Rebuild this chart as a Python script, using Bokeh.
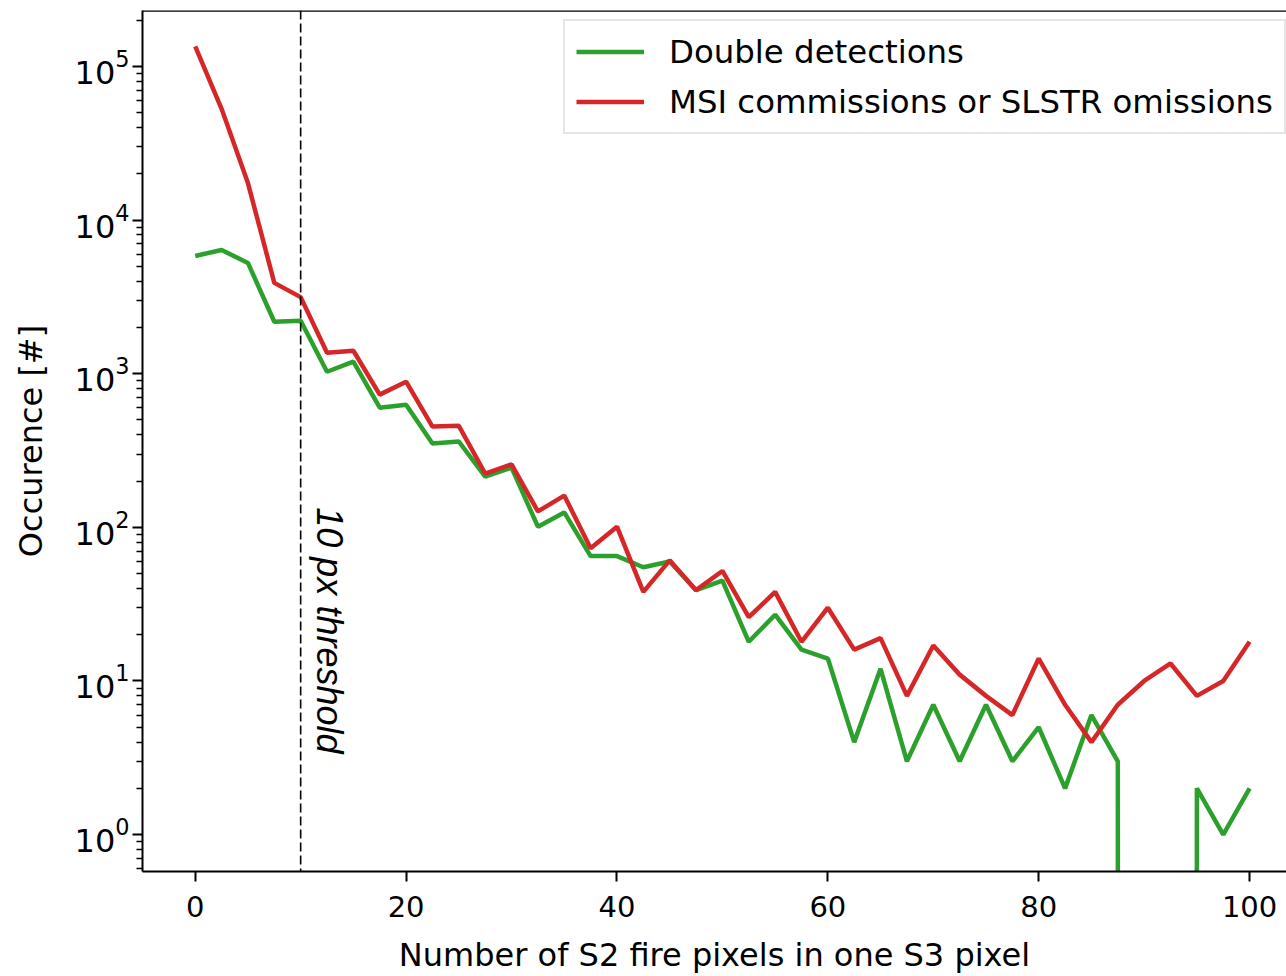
import math
from bokeh.plotting import figure
from bokeh.models import Range1d, FixedTicker, Span, Legend, LegendItem
from bokeh.core.properties import value
from bokeh.embed import file_html
from bokeh.resources import INLINE

# ---- data ----
pixels = [0, 2.5, 5, 7.5, 10, 12.5, 15, 17.5, 20, 22.5, 25, 27.5, 30, 32.5, 35, 37.5,
          40, 42.5, 45, 47.5, 50, 52.5, 55, 57.5, 60, 62.5, 65, 67.5, 70, 72.5, 75, 77.5,
          80, 82.5, 85, 87.5, 90, 92.5, 95, 97.5, 100]
double_detections = [5840, 6390, 5260, 2180, 2210, 1030, 1200, 601, 629, 351, 362, 214,
                     245, 101, 125, 65, 65, 55, 60, 39, 45, 18, 27, 16, 14, 4, 12, 3, 7, 3,
                     7, 3, 5, 2, 6, 3, 0, 0, 2, 1, 2]
msi_commissions = [135000, 53000, 17400, 3900, 3150, 1370, 1410, 731, 887, 453, 458, 224,
                   257, 127, 161, 73, 101, 38, 61, 39, 52, 26, 38, 18, 30, 16, 19, 8, 17, 11,
                   8, 6, 14, 7, 4, 7, 10, 13, 8, 10, 18]
threshold = 10
x_ticks = [0, 20, 40, 60, 80, 100]
y_decades = [0, 1, 2, 3, 4, 5]
series_names = ["Double detections", "MSI commissions or SLSTR omissions"]
colors = ["#2ca02c", "#d62728"]

# zero counts go to -infinity on a log axis (as in matplotlib): use a tiny number
def clip_log(vals):
    return [v if v > 0 else 1e-300 for v in vals]

X_MIN, X_MAX = -5, 103.5
Y_MIN, Y_MAX = 10 ** -0.240, 10 ** 5.364

p = figure(width=1286, height=976, output_backend="svg", toolbar_location=None,
           y_axis_type="log",
           x_range=Range1d(X_MIN, X_MAX), y_range=Range1d(Y_MIN, Y_MAX),
           min_border_left=142, min_border_right=0, min_border_top=10, min_border_bottom=103)
p.background_fill_color = "white"
p.border_fill_color = "white"
p.outline_line_color = None
p.grid.grid_line_color = None

r_green = p.line(pixels, clip_log(double_detections), line_color=colors[0], line_width=4.5)
r_red = p.line(pixels, clip_log(msi_commissions), line_color=colors[1], line_width=4.5)

# threshold line and label
p.add_layout(Span(location=threshold, dimension="height", line_color="black",
                  line_width=1.6, line_dash="9 4"))
p.text(x=[threshold + 2.74], y=[135], text=["10 px threshold"], angle=-math.pi / 2,
       text_font=value("Liberation Sans"), text_font_style="italic", text_font_size="36px",
       text_align="left", text_baseline="middle", text_color="black")

# top spine
p.add_layout(Span(location=Y_MAX, dimension="width", line_color="black", line_width=2.5))

# axes
xa = p.xaxis[0]
xa.ticker = FixedTicker(ticks=x_ticks)
xa.axis_label = "Number of S2 fire pixels in one S3 pixel"
ya = p.yaxis[0]
ya.ticker = FixedTicker(ticks=[10 ** d for d in y_decades],
                        minor_ticks=[m * 10 ** d for d in range(-1, 6) for m in range(2, 10)])
ya.axis_label = "Occurence [#]"
for ax in (xa, ya):
    ax.axis_line_color = "black"
    ax.axis_line_width = 2
    ax.major_tick_line_color = "black"
    ax.major_tick_line_width = 2
    ax.major_tick_in = 0
    ax.major_tick_out = 10
    ax.minor_tick_line_color = "black"
    ax.minor_tick_line_width = 1.5
    ax.minor_tick_in = 0
    ax.minor_tick_out = 6
    ax.major_label_text_font = "DejaVu Sans"
    ax.major_label_text_color = "black"
    ax.axis_label_text_font = "DejaVu Sans"
    ax.axis_label_text_font_size = "32px"
    ax.axis_label_text_font_style = "normal"
    ax.axis_label_text_color = "black"
xa.major_label_text_font_size = "29px"
ya.major_label_text_font_size = "32px"
xa.major_label_standoff = 14
xa.axis_label_standoff = 16
ya.major_label_standoff = 3
ya.axis_label_standoff = 22

legend = Legend(items=[LegendItem(label=series_names[0], renderers=[r_green]),
                       LegendItem(label=series_names[1], renderers=[r_red])],
                location=(421, 737), margin=0,
                label_text_font="DejaVu Sans", label_text_font_size="32.4px",
                label_text_color="black",
                glyph_width=68, glyph_height=39, label_height=39, label_standoff=25,
                spacing=11, padding=11,
                border_line_color="#cccccc", border_line_width=2,
                background_fill_color="white", background_fill_alpha=0.8)
p.add_layout(legend)

open("out.html", "w").write(file_html(p, INLINE))
